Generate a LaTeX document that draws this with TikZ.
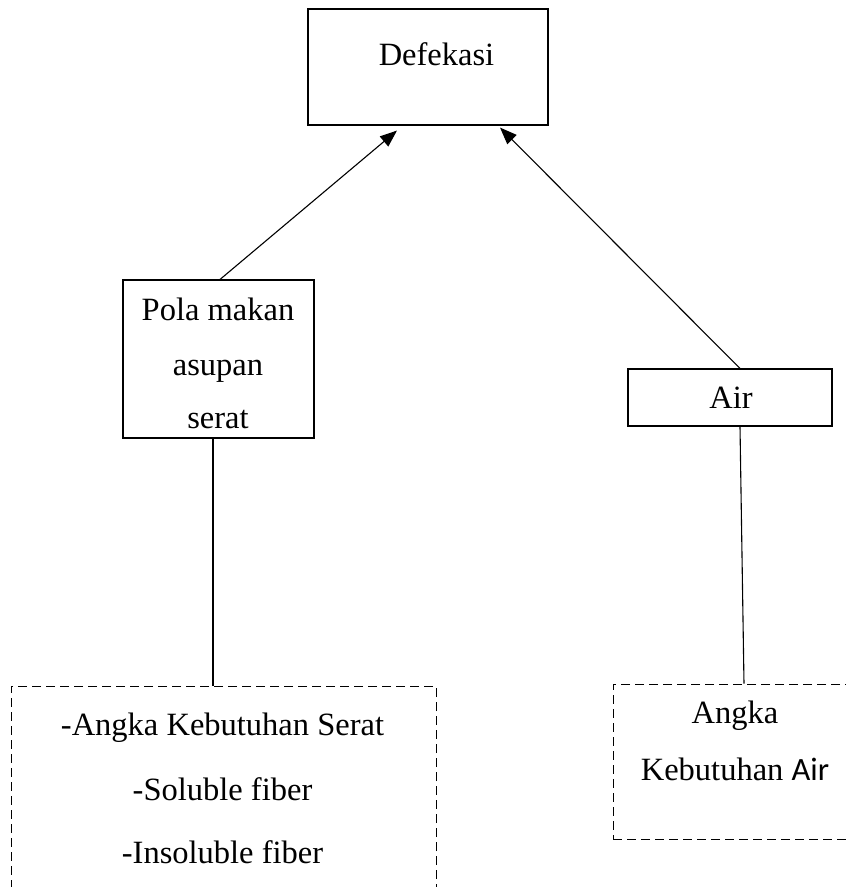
\documentclass[tikz,border=0pt]{standalone}
\usepackage{fontspec}
\setmainfont{Liberation Serif}
\newfontfamily\calibrifont{Carlito}
\usetikzlibrary{calc,arrows.meta}

\begin{document}
\begin{tikzpicture}[
    x=1pt, y=-1pt,
    >={Triangle[length=17pt,width=13pt]},
    line width=1.1pt,
    font=\fontsize{32.5}{38}\selectfont,
    kotak/.style={draw, rectangle, inner sep=0pt},
    kotakputus/.style={draw, rectangle, inner sep=0pt, dash pattern=on 9pt off 5pt, line width=0.9pt},
    teks/.style={anchor=base, inner sep=0pt},
    panah/.style={->},
    garis/.style={-}
]
\useasboundingbox (0,0) rectangle (846,887);
\clip (0,0) rectangle (846,887);

% kotak utama
\node[kotak, minimum width=240pt, minimum height=116pt] (defek) at (428,67) {};
\node[teks] (defek_t) at (436.5,65) {Defekasi};

% faktor kiri
\node[kotak, minimum width=191pt, minimum height=158pt] (pola) at (218.5,359) {};
\node[teks] (pola_t1) at (218,320) {Pola makan};
\node[teks] (pola_t2) at (218,375) {asupan};
\node[teks] (pola_t3) at (218,428) {serat};

% faktor kanan
\node[kotak, minimum width=204pt, minimum height=57pt] (air) at (730,397.5) {};
\node[teks] (air_t) at (731,408) {Air};

% kotak putus-putus bawah
\node[kotakputus, minimum width=425pt, minimum height=244pt] (serat) at (223.5,808) {};
\node[teks] (serat_t1) at (222.5,735) {-Angka Kebutuhan Serat};
\node[teks] (serat_t2) at (222.5,800) {-Soluble fiber};
\node[teks] (serat_t3) at (222.5,863) {-Insoluble fiber};

\node[kotakputus, minimum width=267pt, minimum height=155pt] (kebair) at (746.5,761.5) {};
\node[teks] (kebair_t1) at (735,723) {Angka};
\node[teks] (kebair_t2) at (735,780) {Kebutuhan {\calibrifont Air}};

% panah ke Defekasi
\coordinate (ujung_kiri)  at ($(defek.south)+(-31,5)$);
\coordinate (ujung_kanan) at ($(defek.south)+(72,2)$);
\draw[panah] ($(pola.north)+(1.5,0)$) -- (ujung_kiri);
\draw[panah] ($(air.north)+(10,0)$) -- (ujung_kanan);

% garis ke kotak bawah
\coordinate (pola_bawah) at ($(pola.south)+(-5.5,0)$);
\draw[garis] (pola_bawah) -- (pola_bawah |- serat.north);
\draw[garis] ($(air.south)+(10,0)$) -- ($(kebair.north)+(-2.5,0)$);

\end{tikzpicture}
\end{document}
